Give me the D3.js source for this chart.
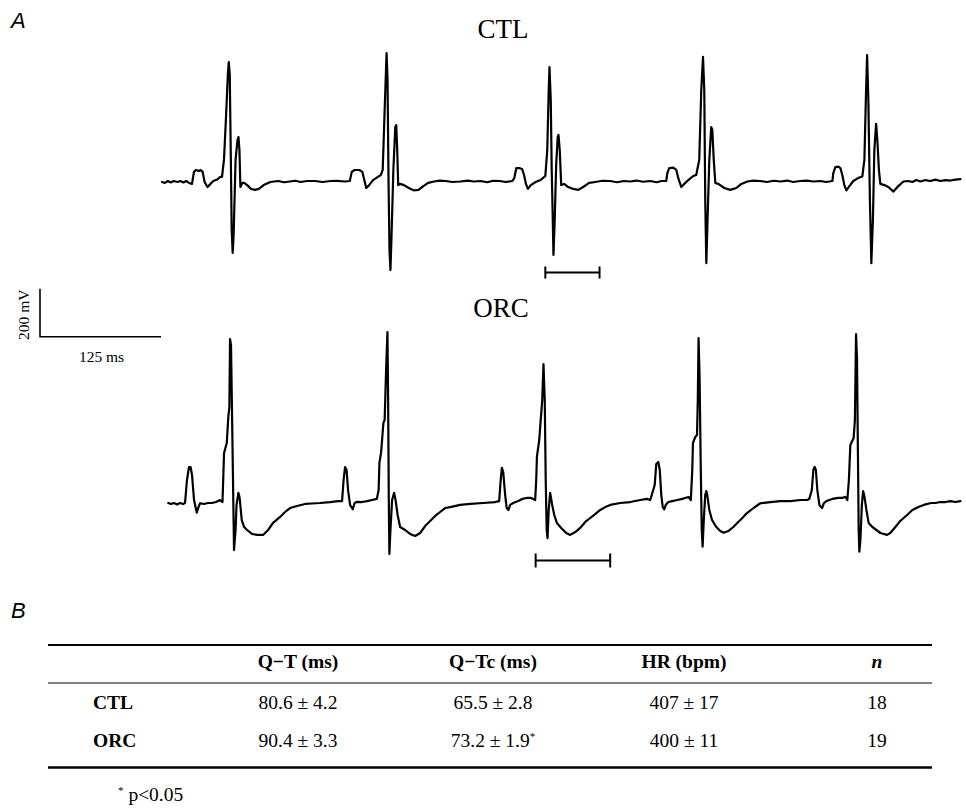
<!DOCTYPE html>
<html><head><meta charset="utf-8">
<script src="https://cdn.jsdelivr.net/npm/d3@7"></script>
<style>body{margin:0;background:#fff} svg{display:block}</style>
</head><body>
<svg id="fig" width="966" height="808"></svg>
<script>
// ---------- ECG traces (time in ms, voltage in mV relative to baseline) ----------
const ctlTime = [0,3,6,9,12,16,19,22,25,28,31,33,35,38,40,42,44,47,50,53,57,60,62,64,66,68,69,70,71,72,73,74,76,78,79,80,81,83,85,88,92,96,100,105,112,120,126,132,138,143,150,158,166,174,181,189,
  194,196,199,204,207,209,211,214,218,223,226,228,230,232,233,234,235,236,237,239,241,242,243,244,246,250,255,260,265,270,275,281,287,293,300,308,316,322,329,336,342,349,355,362,
  364,366,369,372,374,376,378,381,386,391,396,398,399.5,400.3,401.6,402.6,403.6,404.4,405.7,407.2,408.8,409.6,410.9,412.4,415.5,419.6,424.8,430,435.1,441.3,447.5,455,463,470,477,483.7,490,497,504.4,511,516,520.9,
  522,524,528.2,531.3,533.3,536.4,539.5,543.7,548.8,551.9,555,557.1,558.9,560.2,561.2,562.3,563.3,565.4,567.4,568.5,570,571.6,574.7,580.9,587.1,593.3,598.5,604.7,611,618.1,625,632,638.8,646,652,659.4,666,673,680.1,686,692.5,
  693.5,695.6,698.7,700.8,702.8,704.9,707,710.1,714.2,719.4,723.5,725.6,727.1,728.4,729.7,731.3,732.8,734.4,735.9,737.7,739,740.6,742.1,746.3,750.4,755.6,760.7,765.9,771.1,775.2,779.3,783.5,788.6,793.8,799,804.1,809.3,814.5,819.6,824.8];
const ctlVolt = [-2,-6,2,-4,2,-2,2,-4,2,-6,-10,40,48,44,48,40,-2,-23,-10,2,8,19,19,90,256,444,498,444,131,-202,-298,-223,90,173,185,131,-23,-6,-6,-15,-31,-35,-31,-15,-2,2,-3,0,3,-2,2,2,-2,2,3,0,
  2,40,48,48,40,6,-27,-15,6,19,27,48,298,535,423,6,-285,-369,-244,48,227,235,131,-15,-10,-15,-27,-37,-35,-19,-6,0,4,2,-2,0,4,0,2,-3,3,2,-2,2,
  15,56,56,52,27,-10,-31,-15,-2,6,23,131,381,477,340,48,-140,-306,-160,69,185,194,131,-15,-10,-23,-31,-35,-23,-6,-2,3,2,-3,2,0,4,-1,2,-3,2,2,
  35,56,58,48,15,-23,-10,6,23,27,90,381,519,381,-77,-340,-202,90,227,215,90,-6,-10,-27,-35,-27,-10,0,4,2,-2,3,0,4,-2,2,4,0,2,-2,2,
  35,60,62,56,27,-15,-37,-19,2,15,21,90,340,527,340,-77,-340,-160,131,240,173,48,-10,-15,-23,-42,-19,0,2,-2,6,0,6,2,8,2,6,4,8,10];

const orcTime = [6.5,9.3,12.4,15.5,18.6,21.7,23.8,25.8,27.9,29.5,31,33.1,35.9,37.7,39.3,43.4,47.5,51.7,55.8,59.9,62.5,64.1,66.9,68.5,69.6,70.3,71.3,72.9,74.4,76,77,78.9,80.1,82.4,84.8,87.9,93,98.2,104.4,109.6,114.7,122,127.1,132.3,139.5,147.8,155,163.3,173.6,181.9,186,
  187.6,189.1,190.7,192.2,194.3,197.1,199,201.6,206.7,211.9,217.1,221.9,223.8,224.6,226.4,228.7,230,231.5,232.9,233.6,234.3,234.9,236,237.7,239.8,241.3,243.4,246,251.2,256.3,261.5,266.7,271.8,277,282.2,287.3,292.5,297.7,308,318.3,331.8,344.2,348.3,
  349.9,351.1,352.5,354.5,356.1,357.9,359.7,362.8,368,372.1,377,381.4,385.5,386.6,387.3,389.7,390.7,392.8,394.1,395.4,396.4,397.4,398.3,399.5,401,403.1,405.2,407.9,412.4,417.6,421.7,426.9,432,437.2,442.4,447.5,452.7,457.9,463,473.4,483.7,494.1,501,504.4,
  509,510.6,512.7,514.2,515.8,517.3,518.9,520.4,523,527.1,532.3,537.5,544,546.3,547.8,548.5,550.9,552.7,553.5,554.3,555.4,556.6,557.6,558.5,559.7,561.2,562.3,563.3,565.4,568.2,572.6,576.7,580.2,585,590.2,595.3,599.5,604.3,609.8,614,618.1,628.4,638.8,649.1,659.4,666.4,668.7,
  671.3,672.9,674.2,675.5,677,679.1,681.9,683.8,686.4,692.5,698.7,702.8,705.9,708,709.6,711.1,714.5,715.8,717,718,718.9,719.7,720.4,721.5,723,724.3,725.6,727.7,730,733.9,738,742.1,749,752.4,757.6,762.6,769.7,775.2,781.4,786.9,794.5,799,804.1,809.3,814.5,819.6,824.8];
const orcVolt = [0,-4,0,-6,0,-4,0,96,150,150,117,12.5,-40,-17,-1,-4,0,0,4,12.5,4,208,250,358,400,683,658,221,-196,-112.5,-8,42,25,-71,-100,-112.5,-129,-133,-133,-112.5,-83,-58,-37.5,-21,-12.5,-4,-2,0,4,8,8,
  96,150,137.5,54,-8,-26,0,5,4,8,12.5,17,54,167,212.5,333,346,554,712.5,429,12.5,-212.5,-112.5,12.5,42,12.5,-50,-100,-112.5,-129,-137.5,-125,-96,-75,-54,-37.5,-21,-17,-8,-4,0,4,8,
  96,146,129,33,-21,-29,-8,0,8,17,21,21,12.5,96,192,262.5,317,429,579,429,96,-112.5,-146,-29,42,-8,-50,-83,-104,-125,-133,-121,-104,-79,-62.5,-46,-29,-17,-8,0,4,12.5,17,12.5,
  75,162.5,171,137.5,33,-17,-26,-8,4,8,12.5,17,25,12.5,137.5,250,275,283,429,687.5,513,137.5,-112.5,-182,-71,33,50,33,-29,-71,-100,-117,-124,-117,-100,-79,-62.5,-42,-25,-12.5,-1,4,8,8,12.5,12.5,17,
  54,137.5,150,137.5,54,-8,-21,0,8,17,21,21,26,12.5,96,242,271,346,704,596,221,-112.5,-203,-154,-8,50,29,-29,-83,-100,-112.5,-125,-133,-125,-100,-75,-50,-29,-17,-8,0,0,4,4,8,4,8];

// Q-T interval markers (ms)
const qtMarkCTL = [396, 452];
const qtMarkORC = [386, 463];
// Calibration bar
const calTime = 125;   // ms
const calVolt = 200;   // mV

// ---------- Table ----------
const tableHeaders = ["", "Q\u2212T (ms)", "Q\u2212Tc (ms)", "HR (bpm)", "n"];
const groups = ["CTL", "ORC"];
const qtMean = [80.6, 90.4], qtSem = [4.2, 3.3];
const qtcMean = [65.5, 73.2], qtcSem = [2.8, 1.9];
const hrMean = [407, 400], hrSem = [17, 11];
const nSubjects = [18, 19];
const qtcSignificant = [false, true];
const footnote = "p<0.05";

// ---------- Drawing ----------
const svg = d3.select("#fig");
const serif = "'Liberation Serif','Times New Roman',serif";
const sans = "'Liberation Sans',Arial,sans-serif";

const x = d3.scaleLinear().domain([0, 825]).range([162, 960.6]);
const yCTL = d3.scaleLinear().domain([0, 200]).range([181.5, 133.5]);
const yORC = d3.scaleLinear().domain([0, 200]).range([503, 455]);

function trace(times, volts, y) {
  const pts = times.map((t, i) => [t, volts[i]]);
  svg.append("path")
    .attr("d", d3.line().x(d => x(d[0])).y(d => y(d[1]))(pts))
    .attr("fill", "none").attr("stroke", "#000")
    .attr("stroke-width", 2.2).attr("stroke-linejoin", "round").attr("stroke-linecap", "round");
}
trace(ctlTime, ctlVolt, yCTL);
trace(orcTime, orcVolt, yORC);

function qtMarker(span, yPix, tick) {
  const g = svg.append("g").attr("stroke", "#000").attr("stroke-width", 2);
  g.append("line").attr("x1", x(span[0])).attr("x2", x(span[1])).attr("y1", yPix).attr("y2", yPix);
  span.forEach(t => g.append("line").attr("x1", x(t)).attr("x2", x(t)).attr("y1", yPix - tick).attr("y2", yPix + tick));
}
qtMarker(qtMarkCTL, 272.5, 6);
qtMarker(qtMarkORC, 560.5, 7);

// titles
svg.append("text").attr("x", 503).attr("y", 38).attr("text-anchor", "middle")
  .attr("font-family", serif).attr("font-size", 27).text("CTL");
svg.append("text").attr("x", 501).attr("y", 317).attr("text-anchor", "middle")
  .attr("font-family", serif).attr("font-size", 27).text("ORC");

// panel letters
svg.append("text").attr("x", 11).attr("y", 28).attr("font-family", sans).attr("font-style", "italic")
  .attr("font-size", 22).text("A");
svg.append("text").attr("x", 11).attr("y", 618).attr("font-family", sans).attr("font-style", "italic")
  .attr("font-size", 22).text("B");

// calibration bar
const cx = d3.scaleLinear().domain([0, 825]).range([40, 40 + (x(825) - x(0))]);
const cy = d3.scaleLinear().domain([0, 200]).range([336.7, 288.7]);
svg.append("path")
  .attr("d", `M${cx(0)},${cy(calVolt)}V${cy(0)}H${cx(calTime)}`)
  .attr("fill", "none").attr("stroke", "#000").attr("stroke-width", 1.6);
svg.append("text").attr("transform", `translate(${cx(0) - 11},${(cy(0) + cy(calVolt)) / 2 + 2}) rotate(-90)`)
  .attr("text-anchor", "middle").attr("font-family", serif).attr("font-size", 15.5).text(calVolt + " mV");
svg.append("text").attr("x", (cx(0) + cx(calTime)) / 2 + 1).attr("y", 362).attr("text-anchor", "middle")
  .attr("font-family", serif).attr("font-size", 15.5).text(calTime + " ms");

// table
const tX0 = 48, tX1 = 932;
const colX = [93, 298, 493, 684, 877];
svg.append("line").attr("x1", tX0).attr("x2", tX1).attr("y1", 645).attr("y2", 645).attr("stroke", "#000").attr("stroke-width", 2.2);
svg.append("line").attr("x1", tX0).attr("x2", tX1).attr("y1", 683).attr("y2", 683).attr("stroke", "#000").attr("stroke-width", 1.1);
svg.append("line").attr("x1", tX0).attr("x2", tX1).attr("y1", 767.5).attr("y2", 767.5).attr("stroke", "#000").attr("stroke-width", 2.6);

const fs = 19.5;
tableHeaders.forEach((h, i) => {
  if (!h) return;
  svg.append("text").attr("x", colX[i]).attr("y", 668).attr("text-anchor", "middle")
    .attr("font-family", serif).attr("font-weight", "bold").attr("font-size", fs)
    .attr("font-style", i === 4 ? "italic" : "normal").text(h);
});
const rowY = [709, 747];
const f1 = d3.format(".1f");
groups.forEach((g, r) => {
  svg.append("text").attr("x", colX[0]).attr("y", rowY[r]).attr("font-family", serif)
    .attr("font-weight", "bold").attr("font-size", fs).text(g);
  const cells = [
    f1(qtMean[r]) + " \u00b1 " + f1(qtSem[r]),
    f1(qtcMean[r]) + " \u00b1 " + f1(qtcSem[r]),
    hrMean[r] + " \u00b1 " + hrSem[r],
    String(nSubjects[r])
  ];
  cells.forEach((c, j) => {
    const t = svg.append("text").attr("x", colX[j + 1]).attr("y", rowY[r]).attr("text-anchor", "middle")
      .attr("font-family", serif).attr("font-size", fs).text(c);
    if (j === 1 && qtcSignificant[r]) {
      t.append("tspan").attr("dy", -7).attr("font-size", 11).text("*");
    }
  });
});
const fn = svg.append("text").attr("x", 118).attr("y", 801).attr("font-family", serif).attr("font-size", fs);
fn.append("tspan").attr("dy", -7).attr("font-size", 11).text("*");
fn.append("tspan").attr("dy", 7).text(" " + footnote);
</script>
</body></html>
